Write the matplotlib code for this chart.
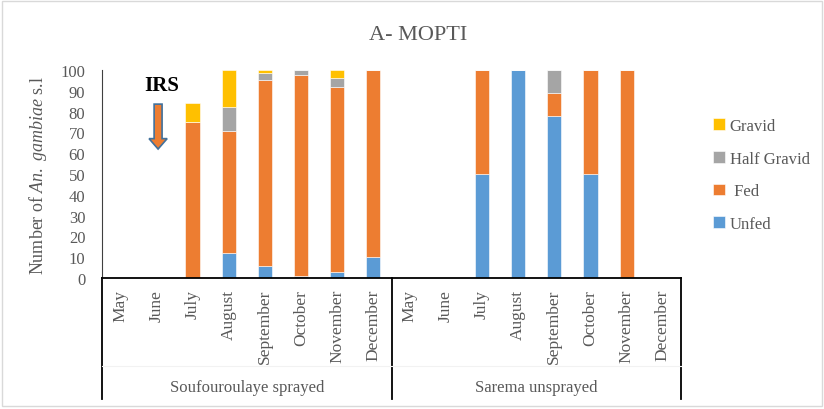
import numpy as np
import matplotlib
matplotlib.use("Agg")
import matplotlib.pyplot as plt
from matplotlib.patches import Rectangle, FancyArrow

plt.rcParams["font.family"] = ["Liberation Serif", "DejaVu Serif"]
plt.rcParams["mathtext.fontset"] = "custom"
plt.rcParams["mathtext.rm"] = "Liberation Serif"
plt.rcParams["mathtext.it"] = "Liberation Serif:italic"

months = ["May", "June", "July", "August", "September", "October", "November", "December"]
groups = ["Soufouroulaye sprayed", "Sarema unsprayed"]

# percentages, Soufouroulaye (8 months) then Sarema (8 months)
unfed = [0, 0, 0, 11.8, 5.8, 1.1, 2.7, 10,
         0, 0, 50, 100, 77.8, 50, 0, 0]
fed = [0, 0, 75, 58.8, 89.6, 96.5, 89.1, 90,
       0, 0, 50, 0, 11.1, 50, 100, 0]
half_gravid = [0, 0, 0, 11.8, 3.3, 2.4, 4.4, 0,
               0, 0, 0, 0, 11.1, 0, 0, 0]
gravid = [0, 0, 9, 17.6, 1.3, 0, 3.8, 0,
          0, 0, 0, 0, 0, 0, 0, 0]

c_unfed = "#5B9BD5"
c_fed = "#ED7D31"
c_half = "#A5A5A5"
c_grav = "#FFC000"
txt = "#595959"

fig = plt.figure(figsize=(8.24, 4.10), dpi=100)
ax = fig.add_axes([102 / 824, 1 - 279 / 410, 579 / 824, 208 / 410])

x = np.arange(len(unfed))
w = 0.39
b1 = np.array(unfed)
b2 = b1 + np.array(fed)
b3 = b2 + np.array(half_gravid)
ax.bar(x, unfed, w, color=c_unfed, edgecolor="white", linewidth=0.4, label="Unfed")
ax.bar(x, fed, w, bottom=b1, color=c_fed, edgecolor="white", linewidth=0.4, label=" Fed")
ax.bar(x, half_gravid, w, bottom=b2, color=c_half, edgecolor="white", linewidth=0.4, label="Half Gravid")
ax.bar(x, gravid, w, bottom=b3, color=c_grav, edgecolor="white", linewidth=0.4, label="Gravid")

ax.set_xlim(-0.5, 15.5)
ax.set_ylim(0, 100)
ax.set_yticks(range(0, 101, 10))
ax.tick_params(axis="y", length=0, labelsize=12, labelcolor=txt, pad=12)
ax.set_xticks([])
for s in ["top", "right"]:
    ax.spines[s].set_visible(False)
ax.spines["left"].set_color("#404040")
ax.spines["bottom"].set_color("black")
ax.spines["bottom"].set_linewidth(1.3)

ax.set_ylabel(r"Number of $\mathit{An.\ gambiae}$ s.l", fontsize=13, color=txt, labelpad=8)
fig.text(418 / 824, 1 - 35 / 410, "A- MOPTI", ha="center", va="center", fontsize=16, color=txt)

# multi-level category axis
tr = ax.get_xaxis_transform()
for i in range(len(unfed)):
    ax.text(i, -0.053, months[i % 8], rotation=90, ha="center", va="top",
            fontsize=12.5, color=txt, transform=tr)
for g, name in enumerate(groups):
    ax.text(g * 8 + 3.5, -0.524, name, ha="center", va="center",
            fontsize=12, color=txt, transform=tr)
for xv in [-0.5, 7.5, 15.5]:
    ax.plot([xv, xv], [0, -0.582], color="black", lw=1.3, transform=tr, clip_on=False)
ax.plot([-0.5, 15.5], [-0.423, -0.423], color="#f2f2f2", lw=0.8, transform=tr, clip_on=False)

# IRS marker
ax.text(1.15, 93, "IRS", ha="center", va="center", fontsize=15, fontweight="bold", color="black")
ax.add_patch(FancyArrow(1.05, 83.6, 0, -21.6, width=0.22, head_width=0.5, head_length=5,
                        length_includes_head=True, facecolor=c_fed, edgecolor="#41719C", lw=1.2))

h, l = ax.get_legend_handles_labels()
fig.legend(h[::-1], l[::-1], loc="upper left", bbox_to_anchor=(698 / 824, 1 - 104 / 410),
           frameon=False, fontsize=12, labelcolor=txt, handlelength=0.7, handleheight=0.7,
           handletextpad=0.3, labelspacing=1.0)

fig.patches.append(Rectangle((0.003, 0.008), 0.994, 0.986, transform=fig.transFigure,
                             fill=False, edgecolor="#d9d9d9", lw=1))

fig.savefig("out.png", dpi=100)
